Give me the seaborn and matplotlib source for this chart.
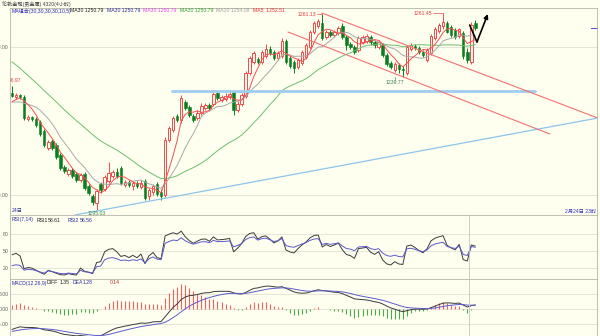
import numpy as np
import pandas as pd
import matplotlib
matplotlib.use("Agg")
import matplotlib.pyplot as plt
import seaborn as sns

# ---- 4-hour candles, oldest first ----
opens = [1234.46, 1233.11, 1233.78, 1233.11, 1225.68, 1226.35, 1225.68, 1224.66, 1221.63, 1215.88,
         1218.25, 1216.90, 1213.51, 1209.46, 1207.10, 1208.45, 1207.10, 1205.07, 1207.10, 1203.05,
         1199.66, 1197.30, 1203.72, 1202.03, 1204.73, 1206.42, 1207.77, 1209.12, 1203.38, 1204.40,
         1203.05, 1204.06, 1202.71, 1204.73, 1199.66, 1201.02, 1203.72, 1201.02, 1200.00, 1218.58,
         1221.96, 1226.69, 1225.34, 1231.42, 1229.73, 1226.69, 1226.01, 1227.70, 1229.39, 1230.41,
         1230.74, 1234.46, 1232.09, 1232.43, 1233.11, 1234.80, 1228.72, 1230.74, 1233.45, 1241.22,
         1244.93, 1245.95, 1244.93, 1246.96, 1249.32, 1248.31, 1246.28, 1246.96, 1252.03, 1246.28,
         1244.93, 1243.24, 1244.59, 1246.62, 1250.00, 1255.07, 1257.09, 1258.11, 1253.38, 1255.07,
         1254.05, 1254.73, 1257.09, 1253.38, 1251.02, 1250.00, 1248.99, 1251.69, 1252.03, 1253.38,
         1251.69, 1250.00, 1250.68, 1247.30, 1244.59, 1242.23, 1243.92, 1242.57, 1241.22, 1249.32,
         1250.34, 1249.66, 1248.31, 1245.61, 1247.97, 1253.04, 1255.41, 1257.09, 1258.11, 1256.76,
         1255.74, 1253.72, 1254.73, 1248.31, 1244.93, 1258.11]
closes = [1233.45, 1233.78, 1233.11, 1226.01, 1226.35, 1225.68, 1223.65, 1220.61, 1216.90, 1217.91,
          1215.88, 1212.84, 1209.12, 1208.11, 1208.45, 1206.42, 1205.07, 1206.76, 1202.37, 1200.68,
          1197.64, 1201.36, 1201.70, 1206.08, 1207.43, 1207.77, 1206.42, 1204.06, 1204.40, 1203.38,
          1204.06, 1203.05, 1204.06, 1198.99, 1201.70, 1203.05, 1200.34, 1199.66, 1218.58, 1222.64,
          1226.01, 1225.34, 1232.77, 1229.39, 1227.03, 1225.34, 1227.70, 1230.07, 1230.41, 1229.39,
          1234.12, 1232.77, 1233.11, 1233.45, 1234.12, 1228.72, 1230.74, 1233.78, 1241.22, 1246.28,
          1247.97, 1244.93, 1248.31, 1249.32, 1247.97, 1246.28, 1247.97, 1252.03, 1244.93, 1243.58,
          1242.91, 1245.61, 1248.31, 1250.68, 1255.07, 1258.11, 1258.79, 1253.04, 1255.07, 1254.05,
          1255.07, 1256.42, 1253.38, 1250.68, 1250.00, 1248.31, 1253.04, 1253.38, 1253.72, 1251.69,
          1250.68, 1251.69, 1247.30, 1244.26, 1243.24, 1244.26, 1242.57, 1242.23, 1250.00, 1250.68,
          1249.66, 1248.31, 1247.30, 1248.99, 1253.72, 1256.09, 1257.43, 1258.45, 1255.07, 1254.05,
          1253.28, 1255.98, 1246.96, 1245.61, 1257.43, 1256.57]
highs = [1236.97, 1234.46, 1234.12, 1233.78, 1227.03, 1226.69, 1226.35, 1225.34, 1222.30, 1218.58,
         1218.92, 1217.57, 1214.19, 1210.14, 1209.12, 1209.12, 1207.77, 1207.43, 1207.77, 1203.72,
         1200.34, 1202.03, 1204.40, 1206.76, 1211.15, 1208.45, 1209.12, 1209.80, 1205.07, 1205.07,
         1204.73, 1204.73, 1205.07, 1205.41, 1202.37, 1203.72, 1204.40, 1202.03, 1219.60, 1223.31,
         1226.69, 1227.37, 1233.78, 1232.09, 1230.41, 1227.37, 1228.72, 1231.08, 1231.08, 1231.08,
         1235.47, 1235.47, 1233.78, 1234.46, 1235.13, 1235.47, 1231.76, 1234.46, 1241.89, 1246.96,
         1248.65, 1246.62, 1248.99, 1251.02, 1250.34, 1248.99, 1248.65, 1253.04, 1252.70, 1246.96,
         1245.61, 1246.28, 1248.99, 1251.35, 1255.74, 1258.79, 1259.46, 1261.13, 1255.74, 1255.74,
         1255.74, 1257.09, 1258.11, 1254.05, 1251.69, 1250.68, 1253.72, 1254.05, 1254.39, 1254.05,
         1252.37, 1252.37, 1251.35, 1247.97, 1245.27, 1244.93, 1244.59, 1243.58, 1250.68, 1251.35,
         1251.02, 1250.34, 1248.99, 1249.66, 1254.39, 1256.76, 1258.11, 1261.45, 1258.79, 1257.43,
         1256.42, 1256.42, 1255.41, 1249.66, 1258.45, 1259.12]
lows = [1233.11, 1232.43, 1232.43, 1225.34, 1225.00, 1225.00, 1222.97, 1219.94, 1216.22, 1215.20,
        1215.20, 1212.16, 1208.45, 1207.43, 1206.42, 1205.75, 1204.40, 1204.40, 1201.70, 1200.00,
        1196.62, 1195.03, 1200.68, 1201.36, 1204.06, 1205.75, 1205.75, 1203.38, 1202.71, 1202.71,
        1201.70, 1202.37, 1202.03, 1198.31, 1198.31, 1200.00, 1199.66, 1198.31, 1199.33, 1217.91,
        1221.29, 1224.66, 1224.32, 1228.72, 1226.35, 1224.66, 1225.34, 1227.03, 1228.72, 1228.72,
        1230.07, 1232.09, 1231.42, 1231.76, 1232.43, 1227.03, 1228.04, 1230.07, 1232.77, 1240.54,
        1244.26, 1244.26, 1244.26, 1246.28, 1247.30, 1245.61, 1245.61, 1246.28, 1244.26, 1242.91,
        1241.22, 1242.57, 1243.92, 1245.95, 1249.32, 1254.39, 1256.42, 1252.37, 1252.70, 1253.38,
        1253.38, 1254.05, 1252.70, 1248.99, 1249.32, 1247.64, 1248.31, 1251.02, 1251.35, 1250.68,
        1249.66, 1249.32, 1246.62, 1243.58, 1242.57, 1241.55, 1241.22, 1239.77, 1240.54, 1248.65,
        1248.99, 1247.64, 1246.62, 1244.93, 1247.30, 1252.37, 1254.73, 1256.09, 1254.73, 1253.38,
        1252.70, 1253.04, 1245.95, 1244.59, 1244.26, 1255.74]
# closes of the bars just before the first candle (warm-up for the averages and indicators)
prior_closes = [1266.5, 1265.8, 1264.2, 1263.5, 1261.9, 1260.4, 1259.8, 1257.6, 1255.3, 1253.9,
                1251.2, 1249.5, 1247.8, 1245.1, 1243.6, 1241.9, 1239.2, 1238.5, 1236.1, 1234.8,
                1233.2, 1232.6, 1231.0, 1230.4, 1229.1, 1229.8, 1230.5, 1231.2, 1232.4]

ma_periods = [30, 10, 5]
rsi_periods = [7, 14]
macd_params = (12, 26, 9)
price_ticks = [1200, 1250]
rsi_ticks = [20, 50, 80]
macd_ticks = [-5, 0, 5]

title = "伦敦金现(贵金属) 4320(4小时)"
left_date = "24日"
right_date = "2月24日 23时"

# hand-drawn analysis lines: (bar index, price)
support_line = [(15.6, 1193.24), (145.4, 1226.01)]
level_line = [(39.7, 1235.14), (129.8, 1235.14)]
channel_upper = [(76.9, 1261.49), (145.4, 1226.01)]
channel_lower = [(68.5, 1255.07), (133.5, 1220.61)]
forecast_path = [(113.6, 1257.43), (115.4, 1251.69), (118.1, 1261.15)]

# ---- colours ----
BG = "#fffff0"
UP = "#f24b4b"
DOWN = "#0b7d1e"
GRID = "#e2e2d4"
SPINE = "#b4b4a8"
MA_COLORS = {30: "#6cbf6c", 10: "#a8a8a8", 5: "#f25050"}
BLACK_LINE = "#3a3a3a"
BLUE_LINE = "#5a5ad0"

sns.set_theme(style="white", rc={"axes.facecolor": BG, "figure.facecolor": BG})
plt.rcParams["font.family"] = ["Liberation Sans", "Noto Sans CJK SC", "DejaVu Sans"]
plt.rcParams["axes.unicode_minus"] = False

W, H = 600, 336
fig = plt.figure(figsize=(W / 100, H / 100), dpi=100, facecolor=BG)


def box(x0, y0, x1, y1):
    return [x0 / W, 1 - y1 / H, (x1 - x0) / W, (y1 - y0) / H]


ax = fig.add_axes(box(10, 8, 597, 215))
ax_rsi = fig.add_axes(box(10, 215, 597, 279), sharex=ax)
ax_macd = fig.add_axes(box(10, 279, 597, 336), sharex=ax)

n_prior = len(prior_closes)
idx = np.arange(len(closes))
o, c, h, l = (np.array(v) for v in (opens, closes, highs, lows))
full = pd.Series(prior_closes + closes, dtype=float)

# ---- candles ----
up = c >= o
ax.vlines(idx[up], l[up], h[up], color=UP, lw=0.7, zorder=2)
ax.vlines(idx[~up], l[~up], h[~up], color=DOWN, lw=0.7, zorder=2)
ax.bar(idx[up], (c - o)[up], bottom=o[up], width=0.62, facecolor=BG,
       edgecolor=UP, lw=0.7, zorder=3)
ax.bar(idx[~up], (c - o)[~up], bottom=o[~up], width=0.62, facecolor=DOWN,
       edgecolor=DOWN, lw=0.4, zorder=3)

# ---- moving averages ----
ma_last = {}
for p in ma_periods:
    ma = full.rolling(p, min_periods=1).mean().iloc[n_prior:].to_numpy()
    ma_last[p] = ma[-1]
    sns.lineplot(x=idx, y=ma, ax=ax, color=MA_COLORS[p], lw=0.7, zorder=4)

# ---- analysis lines ----
def draw(points, **kw):
    xs, ys = zip(*points)
    ax.plot(xs, ys, **kw)

draw(support_line, color="#8cc4ee", lw=0.9, zorder=5)
draw(level_line, color="#9fcdf0", lw=2.0, zorder=5)
draw(channel_upper, color="#f57070", lw=0.8, zorder=5)
draw(channel_lower, color="#f57070", lw=0.8, zorder=5)
draw(forecast_path[:2], color="black", lw=1.2, zorder=6)
ax.annotate("", xy=forecast_path[2], xytext=forecast_path[1],
            arrowprops=dict(arrowstyle="-|>", color="black", lw=1.2,
                            mutation_scale=6, shrinkA=0, shrinkB=0), zorder=6)

# ---- extreme price labels ----
FS = 3.7
hi1, hi2 = 77, 107
ax.plot([hi1 - 1.3, hi1], [h[hi1]] * 2, color=UP, lw=0.5, zorder=5)
ax.text(hi1 - 1.4, h[hi1], f"{h[hi1]:.2f}", color="#e03c3c", fontsize=FS,
        ha="right", va="center", zorder=6)
ax.plot([hi2 - 2.6, hi2], [h[hi2]] * 2, color=UP, lw=0.5, zorder=5)
ax.text(hi2 - 2.7, h[hi2], f"{h[hi2]:.2f}", color="#e03c3c", fontsize=FS,
        ha="right", va="center", zorder=6)
lo1, lo2 = 97, 21
ax.plot([lo1 - 2, lo1 - 2], [l[lo1], l[lo1] - 1.0], color="#4a8a6a", lw=0.5)
ax.text(lo1 - 2, l[lo1] - 1.0, f"{l[lo1]:.2f}", color="#3a7a5a", fontsize=FS,
        ha="center", va="top", zorder=6)
ax.text(lo2, l[lo2] - 0.3, f"{l[lo2]:.2f}", color="#3a8a4a", fontsize=FS,
        ha="center", va="top", zorder=6)
ax.text(2.2, h[0] + 1.6, f"{h[0]:.2f}", color="#e03c3c", fontsize=FS,
        ha="right", va="center", clip_on=True, zorder=6)

# current price marker on the right edge
ax.plot([143.8, 145.2], [c[-1]] * 2, color="#5a5ad0", lw=0.8, clip_on=False)

# ---- RSI ----
delta = full.diff().fillna(0.0)
gain, loss = delta.clip(lower=0), (-delta).clip(lower=0)
rsi_vals = {}
for p, col in zip(rsi_periods, [BLACK_LINE, BLUE_LINE]):
    g = gain.ewm(alpha=1 / p, adjust=False).mean()
    d = loss.ewm(alpha=1 / p, adjust=False).mean()
    r = (100 * g / (g + d)).iloc[n_prior:].to_numpy()
    rsi_vals[p] = r
    sns.lineplot(x=idx, y=r, ax=ax_rsi, color=col, lw=0.7)

# ---- MACD ----
fast, slow, sig = macd_params
dif_full = full.ewm(span=fast, adjust=False).mean() - full.ewm(span=slow, adjust=False).mean()
dea_full = dif_full.ewm(span=sig, adjust=False).mean()
dif = dif_full.iloc[n_prior:].to_numpy()
dea = dea_full.iloc[n_prior:].to_numpy()
bar = 2 * (dif - dea)
ax_macd.vlines(idx[bar >= 0], 0, bar[bar >= 0], color="#f26060", lw=0.8)
ax_macd.vlines(idx[bar < 0], 0, bar[bar < 0], color="#4aa84a", lw=0.8)
sns.lineplot(x=idx, y=dif, ax=ax_macd, color=BLACK_LINE, lw=0.7)
sns.lineplot(x=idx, y=dea, ax=ax_macd, color=BLUE_LINE, lw=0.7)

# ---- axes styling ----
ax.set_xlim(-0.5, 145.2)
ax.set_ylim(1193.24, 1263.18)
ax_rsi.set_ylim(0.6, 113.5)
ax_macd.set_ylim(-9.0, 10.0)

for a, ticks, fmt in ((ax, price_ticks, "{:.2f}"), (ax_rsi, rsi_ticks, "{:d}"),
                      (ax_macd, macd_ticks, "{:.2f}")):
    a.set_facecolor(BG)
    a.set_yticks(ticks)
    a.set_yticklabels([fmt.format(t) for t in ticks])
    a.tick_params(axis="y", length=0, pad=1, labelsize=FS, labelcolor="#606060")
    a.tick_params(axis="x", length=0, labelbottom=False)
    a.grid(axis="y", color=GRID, lw=0.6)
    a.grid(axis="x", visible=False)
    a.set_xlabel("")
    a.set_ylabel("")
    for s in a.spines.values():
        s.set_color(SPINE)
        s.set_linewidth(0.6)

for a in (ax_rsi, ax_macd):
    a.axvline(113.5, color="#c4c4c4", lw=0.6)

# ---- header texts ----
def px_text(x, y, s, color, **kw):
    fig.text(x / W, 1 - y / H, s, color=color, fontsize=FS, va="center", ha="left", **kw)

px_text(2, 4, title, "#404040")
header = [(12, "MA组合(30,30,30,30,10,5)", "#2424b8"),
          (70, f"MA30 {ma_last[30]:.2f}", "#202020"),
          (107, f"MA30 {ma_last[30]:.2f}", "#2a2aa0"),
          (143, f"MA30 {ma_last[30]:.2f}", "#f040f0"),
          (180, f"MA30 {ma_last[30]:.2f}", "#30a030"),
          (216, f"MA10 {ma_last[10]:.2f}", "#a0a0a0"),
          (253, f"MA5  {ma_last[5]:.2f}", "#f03030")]
for x, s, col in header:
    px_text(x, 11, s, col)

px_text(12, 220, f"RSI({rsi_periods[0]},{rsi_periods[1]})", "#2a2aa0")
px_text(37, 220, "RSI1", "#202020")
px_text(48, 220, f"{rsi_vals[rsi_periods[0]][-1]:.2f}", "#202020")
px_text(68, 220, "RSI2", "#2a2aa0")
px_text(80, 220, f"{rsi_vals[rsi_periods[1]][-1]:.2f}", "#2a2aa0")

px_text(12, 283, f"MACD({fast},{slow},{sig})", "#2a2aa0")
px_text(47, 283, "DIFF", "#202020")
px_text(60, 283, f"{dif[-1]:.2f}", "#202020")
px_text(73, 283, "DEA", "#2a2aa0")
px_text(83, 283, f"{dea[-1]:.2f}", "#2a2aa0")
px_text(110, 283, f"{bar[-1]:.2f}", "#c03030")

px_text(12, 211, left_date, "#3030a0")
fig.text(596 / W, 1 - 211 / H, right_date, color="#3030c0", fontsize=FS,
         va="center", ha="right")

fig.savefig("out.png", dpi=100, facecolor=BG)
